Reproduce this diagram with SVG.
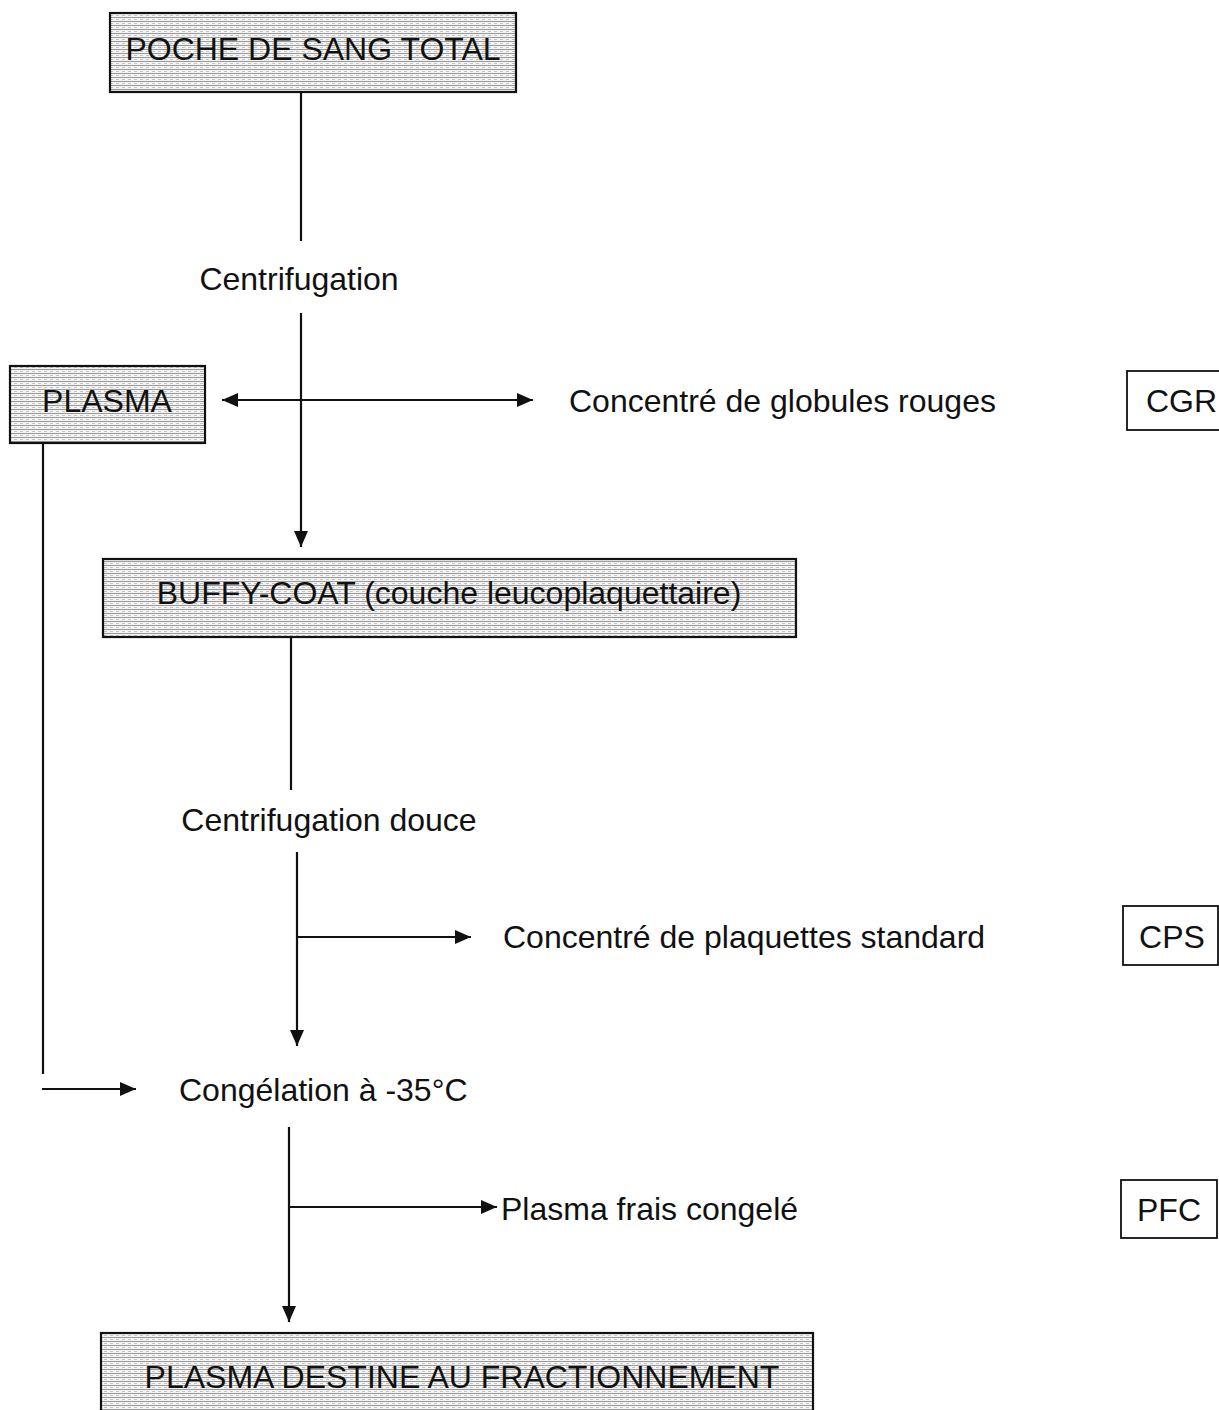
<svg xmlns="http://www.w3.org/2000/svg" width="1219" height="1410" viewBox="0 0 1219 1410">
<style>
text{font-family:"Liberation Sans",Arial,sans-serif;font-size:32px;fill:#111}
.c{text-anchor:middle}
.box{fill:url(#hatch);stroke:#111;stroke-width:2.2}
.wbox{fill:#fff;stroke:#111;stroke-width:1.8}
.ln{stroke:#111;stroke-width:2.2;fill:none}
</style>
<defs>
<pattern id="hatch" width="6" height="4" patternUnits="userSpaceOnUse">
<rect width="6" height="4" fill="#f4f4f4"/>
<rect y="1" width="6" height="1" fill="#9a9a9a"/>
<rect x="2" y="3" width="3" height="1" fill="#c4c4c4"/>
</pattern>
<marker id="ah" viewBox="0 0 16 14" refX="16" refY="7" markerWidth="16" markerHeight="14" markerUnits="userSpaceOnUse" orient="auto-start-reverse">
<path d="M0,0 L16,7 L0,14 Z" fill="#111"/>
</marker>
</defs>
<g id="connectors">
<line class="ln" x1="301" y1="92" x2="301" y2="241"/>
<line class="ln" x1="301" y1="313" x2="301" y2="547" marker-end="url(#ah)"/>
<line class="ln" x1="222" y1="400" x2="533" y2="400" marker-start="url(#ah)" marker-end="url(#ah)"/>
<line class="ln" x1="291" y1="637" x2="291" y2="790"/>
<line class="ln" x1="297" y1="852" x2="297" y2="1046" marker-end="url(#ah)"/>
<line class="ln" x1="297" y1="937" x2="471" y2="937" marker-end="url(#ah)"/>
<line class="ln" x1="43" y1="443" x2="43" y2="1074"/>
<line class="ln" x1="42" y1="1089" x2="136" y2="1089" marker-end="url(#ah)"/>
<line class="ln" x1="289" y1="1127" x2="289" y2="1322" marker-end="url(#ah)"/>
<line class="ln" x1="289" y1="1207" x2="497" y2="1207" marker-end="url(#ah)"/>
</g>
<g id="poche"><rect class="box" x="110" y="13" width="406" height="79"/><text class="c" x="313" y="60">POCHE DE SANG TOTAL</text></g>
<g id="centrifugation"><text class="c" x="299" y="290">Centrifugation</text></g>
<g id="plasma"><rect class="box" x="10" y="366" width="195" height="77"/><text class="c" x="107" y="412">PLASMA</text></g>
<g id="cgr-label"><text x="569" y="412">Concentré de globules rouges</text></g>
<g id="cgr"><rect class="wbox" x="1127" y="371" width="96" height="59"/><text x="1146" y="412">CGR</text></g>
<g id="buffy"><rect class="box" x="103" y="559" width="693" height="78"/><text class="c" x="449" y="604">BUFFY-COAT (couche leucoplaquettaire)</text></g>
<g id="centrifugation-douce"><text class="c" x="329" y="831">Centrifugation douce</text></g>
<g id="cps-label"><text x="503" y="948">Concentré de plaquettes standard</text></g>
<g id="cps"><rect class="wbox" x="1123" y="906" width="95" height="59"/><text class="c" x="1172" y="948">CPS</text></g>
<g id="congelation"><text x="179" y="1101">Congélation à -35°C</text></g>
<g id="pfc-label"><text x="501" y="1220">Plasma frais congelé</text></g>
<g id="pfc"><rect class="wbox" x="1121" y="1180" width="96" height="58"/><text class="c" x="1169" y="1221">PFC</text></g>
<g id="fractionnement"><rect class="box" x="101" y="1333" width="712" height="80"/><text class="c" x="462" y="1388">PLASMA DESTINE AU FRACTIONNEMENT</text></g>
</svg>
